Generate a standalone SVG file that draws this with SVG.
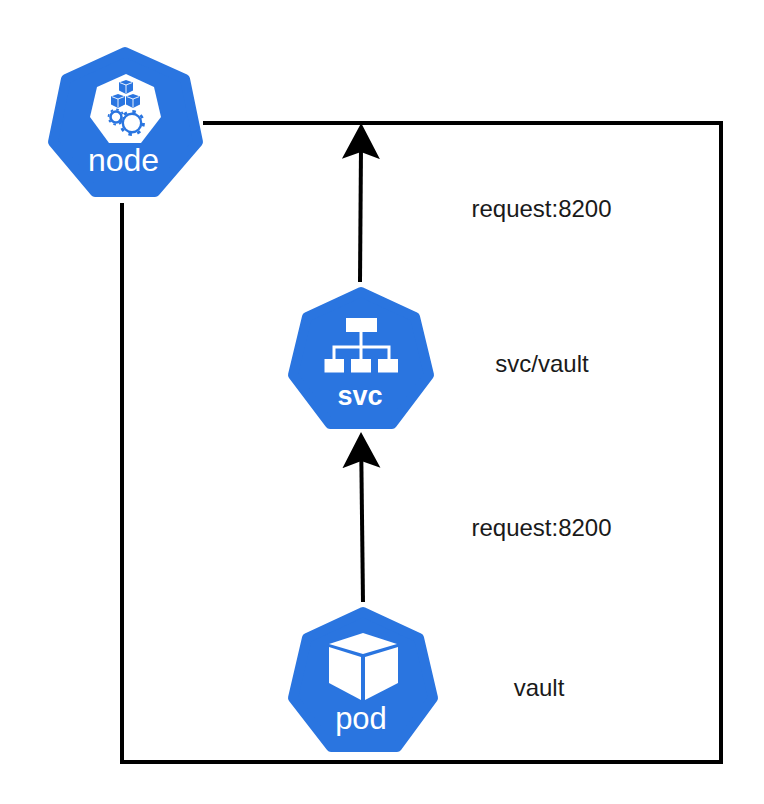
<svg xmlns="http://www.w3.org/2000/svg" width="764" height="804" viewBox="0 0 764 804">
<style>
.hex{fill:#2a75e0;stroke:#2a75e0;stroke-width:10;stroke-linejoin:round}
.w{fill:#fff}
.wl{fill:none;stroke:#fff;stroke-width:3}
.gear{fill:none;stroke:#2a75e0}
.cube{fill:#2a75e0}
.cl{fill:none;stroke:#fff;stroke-width:.9}
.nl{font-family:"Liberation Sans",Arial,sans-serif;fill:#fff;text-anchor:middle}
.t{font-family:"Liberation Sans",Arial,sans-serif;font-size:24px;fill:#1a1a1a;text-anchor:middle}
.c{fill:none;stroke:#000;stroke-width:4}
</style>
<defs>
<marker id="ah" markerUnits="userSpaceOnUse" viewBox="0 0 40 40" refX="11" refY="20" markerWidth="40" markerHeight="40" orient="auto"><path d="M0 1L36 20L0 39L7 20Z" fill="#000"/></marker>
<g id="cb"><path class="cube" d="M0-7L7-4.500V3.500L0 7L-7 3.500V-4.500Z"/><path class="cl" d="M-6-4.300L0-2L6-4.300M0-2V6.500"/></g>
</defs>
<g id="connectors">
<path class="c" d="M203 123H721V762H122V203"/>
<path class="c" d="M360 282L361 148" marker-end="url(#ah)"/>
<path class="c" d="M363 602L361.300 457" marker-end="url(#ah)"/>
</g>
<g id="node-node">
<path class="hex" d="M125 52L185 79L198 142L155 192L95 192L53 142L66 79Z"/>
<path class="w" d="M126 74L154 87L161 117L141 143L109 143L90 117L97 87Z"/>
<use href="#cb" x="126" y="87"/><use href="#cb" x="118" y="101"/><use href="#cb" x="133" y="101"/>
<circle class="gear" cx="116" cy="117" r="5.500" stroke-width="2.600"/>
<circle class="gear" cx="116" cy="117" r="7.500" stroke-width="1.800" stroke-dasharray="2.600 3.290"/>
<circle class="gear" cx="132" cy="123" r="9.200" stroke-width="2.400"/>
<circle class="gear" cx="132" cy="123" r="11.500" stroke-width="2.800" stroke-dasharray="3.500 5.530"/>
<text class="nl" x="123.500" y="171" font-size="32">node</text>
</g>
<g id="node-svc">
<path class="hex" d="M361 292L415 317L429 375L392 424L330 424L293 375L307 317Z"/>
<rect class="w" x="346" y="318" width="31" height="14"/>
<rect class="w" x="324.500" y="359" width="19.500" height="13.500"/>
<rect class="w" x="351" y="359" width="20" height="13.500"/>
<rect class="w" x="378" y="359" width="20" height="13.500"/>
<path class="wl" d="M361 332V359M334 359V347H389V359"/>
<text class="nl" x="360" y="405" font-size="27" font-weight="bold">svc</text>
</g>
<g id="node-pod">
<path class="hex" d="M363 612L419 638L433 698L397 747L331 747L293 698L307 638Z"/>
<path class="w" d="M363 633L397 644L363 654L329 644Z"/>
<path class="w" d="M329 647L361 657V700L329 683Z"/>
<path class="w" d="M365 657L398 647V683L365 700Z"/>
<text class="nl" x="361" y="729" font-size="31">pod</text>
</g>
<g id="labels">
<text class="t" x="541.500" y="217">request:8200</text>
<text class="t" x="542" y="372">svc/vault</text>
<text class="t" x="541.500" y="536">request:8200</text>
<text class="t" x="539" y="696">vault</text>
</g>
</svg>
